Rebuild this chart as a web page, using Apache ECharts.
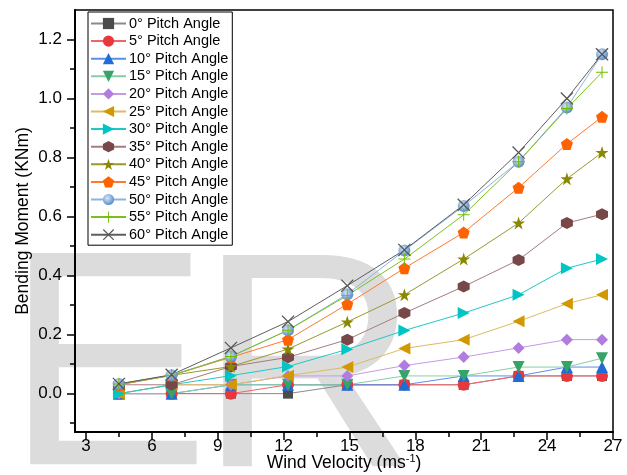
<!DOCTYPE html>
<html>
<head>
<meta charset="utf-8">
<title>Bending Moment vs Wind Velocity</title>
<script src="https://cdn.jsdelivr.net/npm/echarts@6/dist/echarts.min.js"></script>
<style>
  html, body { margin: 0; padding: 0; background: #fff; }
  #chart { width: 627px; height: 475px; }
</style>
</head>
<body>
<div id="chart"></div>
<script>
// Wind velocity (m/s) at each measurement
const windVelocity = [4.5, 6.9, 9.6, 12.2, 14.9, 17.5, 20.2, 22.7, 24.9, 26.5];

// Bending moment (KNm) for each blade pitch angle
const pitch0  = [0, 0, 0, 0, 0.03, 0.03, 0.03, 0.06, 0.06, 0.06];
const pitch5  = [0, 0, 0, 0.03, 0.03, 0.03, 0.03, 0.06, 0.06, 0.06];
const pitch10 = [0, 0, 0.03, 0.03, 0.03, 0.03, 0.06, 0.06, 0.09, 0.09];
const pitch15 = [0, 0, 0.03, 0.03, 0.03, 0.06, 0.06, 0.09, 0.09, 0.12];
const pitch20 = [0, 0.03, 0.03, 0.06, 0.06, 0.095, 0.124, 0.155, 0.183, 0.183];
const pitch25 = [0, 0.03, 0.03, 0.061, 0.09, 0.153, 0.183, 0.245, 0.305, 0.335];
const pitch30 = [0, 0.03, 0.061, 0.092, 0.15, 0.214, 0.273, 0.335, 0.425, 0.456];
const pitch35 = [0.03, 0.03, 0.092, 0.123, 0.183, 0.273, 0.363, 0.453, 0.578, 0.608];
const pitch40 = [0.03, 0.062, 0.092, 0.151, 0.243, 0.335, 0.456, 0.578, 0.728, 0.817];
const pitch45 = [0.03, 0.062, 0.123, 0.183, 0.303, 0.425, 0.546, 0.698, 0.846, 0.938];
const pitch50 = [0.033, 0.062, 0.126, 0.215, 0.337, 0.485, 0.636, 0.786, 0.97, 1.15];
const pitch55 = [0.033, 0.062, 0.126, 0.215, 0.333, 0.456, 0.606, 0.786, 0.966, 1.089];
const pitch60 = [0.033, 0.064, 0.155, 0.244, 0.366, 0.487, 0.64, 0.817, 1.0, 1.15];

const pitchLabels = ['0° Pitch Angle', '5° Pitch Angle', '10° Pitch Angle', '15° Pitch Angle',
  '20° Pitch Angle', '25° Pitch Angle', '30° Pitch Angle', '35° Pitch Angle', '40° Pitch Angle',
  '45° Pitch Angle', '50° Pitch Angle', '55° Pitch Angle', '60° Pitch Angle'];

// Axis tick positions
const xMajorTicks = [3, 6, 9, 12, 15, 18, 21, 24, 27];
const xMinorTicks = [4.5, 7.5, 10.5, 13.5, 16.5, 19.5, 22.5, 25.5];
const yMajorTicks = [0, 0.2, 0.4, 0.6, 0.8, 1.0, 1.2];
const yMinorTicks = [-0.1, 0.1, 0.3, 0.5, 0.7, 0.9, 1.1];

// Marker shapes
const shapes = {
  down: 'path://M-1,-1L1,-1L0,1Z',
  left: 'path://M-1,0L1,-1L1,1Z',
  right: 'path://M1,0L-1,-1L-1,1Z',
  hexagon: 'path://M0,-1L0.866,-0.5L0.866,0.5L0,1L-0.866,0.5L-0.866,-0.5Z',
  pentagon: 'path://M0,-1L0.951,-0.309L0.588,0.809L-0.588,0.809L-0.951,-0.309Z',
  star: 'path://M0,-1L0.223,-0.307L0.951,-0.309L0.361,0.117L0.588,0.809L0,0.38L-0.588,0.809L-0.361,0.117L-0.951,-0.309L-0.223,-0.307Z',
  plus: 'path://M-0.08,-1L0.08,-1L0.08,-0.08L1,-0.08L1,0.08L0.08,0.08L0.08,1L-0.08,1L-0.08,0.08L-1,0.08L-1,-0.08L-0.08,-0.08Z',
  cross: 'path://M-1,-0.86L-0.86,-1L1,0.86L0.86,1ZM0.86,-1L1,-0.86L-0.86,1L-1,0.86Z'
};

const sphere = {
  type: 'radial', x: 0.4, y: 0.38, r: 0.62,
  colorStops: [{ offset: 0, color: '#d8e6f6' }, { offset: 1, color: '#5b8ec6' }]
};

const seriesStyle = [
  { data: pitch0,  symbol: 'rect',          size: 10, fill: '#4b4b4b', line: '#8a8a8a' },
  { data: pitch5,  symbol: 'circle',        size: 12, fill: '#e8383d', line: '#ef6666' },
  { data: pitch10, symbol: 'triangle',      size: 12, fill: '#1d6dd8', line: '#5b8ee6' },
  { data: pitch15, symbol: shapes.down,     size: 12, fill: '#36a468', line: '#86cfa4' },
  { data: pitch20, symbol: 'diamond',       size: 12, fill: '#b07cde', line: '#c29be6' },
  { data: pitch25, symbol: shapes.left,     size: 12, fill: '#d29800', line: '#ddbb60' },
  { data: pitch30, symbol: shapes.right,    size: 12, fill: '#00c5c5', line: '#1ec8c8' },
  { data: pitch35, symbol: shapes.hexagon,  size: 12, fill: '#784848', line: '#a67c7c' },
  { data: pitch40, symbol: shapes.star,     size: 13, fill: '#8a8800', line: '#9a982a' },
  { data: pitch45, symbol: shapes.pentagon, size: 12, fill: '#ff6200', line: '#ff7a2e' },
  { data: pitch50, symbol: 'circle',        size: 12, fill: sphere,    line: '#8db2e2' },
  { data: pitch55, symbol: shapes.plus,     size: 12, fill: '#72bc00', line: '#7cc01e' },
  { data: pitch60, symbol: shapes.cross,    size: 13, fill: '#555555', line: '#5e5e5e' }
];

const fontFamily = '"Liberation Sans", Arial, sans-serif';

const series = seriesStyle.map((s, i) => ({
  name: pitchLabels[i],
  type: 'line',
  xAxisIndex: 0,
  yAxisIndex: 0,
  data: windVelocity.map((v, k) => [v, s.data[k]]),
  symbol: s.symbol,
  symbolSize: s.size,
  showAllSymbol: true,
  itemStyle: { color: s.fill, opacity: 1 },
  lineStyle: { color: s.line, width: 1 },
  emphasis: { disabled: true },
  animation: false
}));

const chart = echarts.init(document.getElementById('chart'), null, { renderer: 'canvas' });

chart.setOption({
  backgroundColor: '#ffffff',
  animation: false,
  textStyle: { fontFamily },
  // large faded lettering behind the plot
  graphic: [
    {
      type: 'text', z: -10, silent: true, left: 5, top: 226,
      style: { text: 'E', font: '307px "Liberation Sans", Arial, sans-serif', fill: '#dcdcdc' }
    },
    {
      type: 'text', z: -10, silent: true, left: 198, top: 228,
      style: { text: 'R', font: '307px "Liberation Sans", Arial, sans-serif', fill: '#dcdcdc' }
    }
  ],
  grid: {
    left: 75, right: 14, top: 10, bottom: 43,
    outerBoundsMode: 'none',
    containLabel: false,
    show: true, borderColor: '#000', borderWidth: 1.5, backgroundColor: 'transparent'
  },
  legend: {
    orient: 'vertical',
    left: 88, top: 12,
    data: pitchLabels,
    itemWidth: 35,
    itemHeight: 14,
    itemGap: 2.6,
    padding: [4, 4, 3, 2],
    borderColor: '#000',
    borderWidth: 1,
    backgroundColor: '#fff',
    selectedMode: false,
    lineStyle: { width: 2 },
    textStyle: { fontSize: 14.5, lineHeight: 14, color: '#000', fontFamily, padding: [0, 0, 0, -2] }
  },
  xAxis: [
    {
      type: 'value', min: 2.5, max: 27,
      name: 'Wind Velocity (ms{sup|-1})',
      nameLocation: 'middle', nameGap: 21, nameMoveOverlap: false,
      nameTextStyle: {
        fontSize: 17.5, color: '#000', fontFamily, lineHeight: 20,
        rich: { sup: { fontSize: 11, verticalAlign: 'top', lineHeight: 20, color: '#000', fontFamily } }
      },
      axisLine: { show: true, onZero: false, lineStyle: { color: '#000', width: 2 } },
      axisTick: { show: true, inside: false, length: 8, customValues: xMajorTicks, lineStyle: { color: '#000', width: 1.5 } },
      axisLabel: { show: true, customValues: xMajorTicks, fontSize: 17, color: '#000', fontFamily, margin: 6 },
      splitLine: { show: false },
      minorTick: { show: false }
    },
    {
      type: 'value', min: 2.5, max: 27, position: 'bottom',
      axisLine: { show: false, onZero: false },
      axisTick: { show: true, inside: false, length: 5, customValues: xMinorTicks, lineStyle: { color: '#000', width: 1.5 } },
      axisLabel: { show: false },
      splitLine: { show: false }
    }
  ],
  yAxis: [
    {
      type: 'value', min: -0.13, max: 1.3,
      name: 'Bending Moment (KNm)',
      nameLocation: 'middle', nameGap: 43, nameRotate: 90, nameMoveOverlap: false,
      nameTextStyle: { fontSize: 17.5, color: '#000', fontFamily },
      axisLine: { show: true, onZero: false, lineStyle: { color: '#000', width: 2 } },
      axisTick: { show: true, inside: false, length: 8, customValues: yMajorTicks, lineStyle: { color: '#000', width: 1.5 } },
      axisLabel: { show: true, customValues: yMajorTicks, fontSize: 17, color: '#000', fontFamily, margin: 13,
        formatter: v => v.toFixed(1) },
      splitLine: { show: false }
    },
    {
      type: 'value', min: -0.13, max: 1.3, position: 'left',
      axisLine: { show: false, onZero: false },
      axisTick: { show: true, inside: false, length: 5, customValues: yMinorTicks, lineStyle: { color: '#000', width: 1.5 } },
      axisLabel: { show: false },
      splitLine: { show: false }
    }
  ],
  series
});
</script>
</body>
</html>
